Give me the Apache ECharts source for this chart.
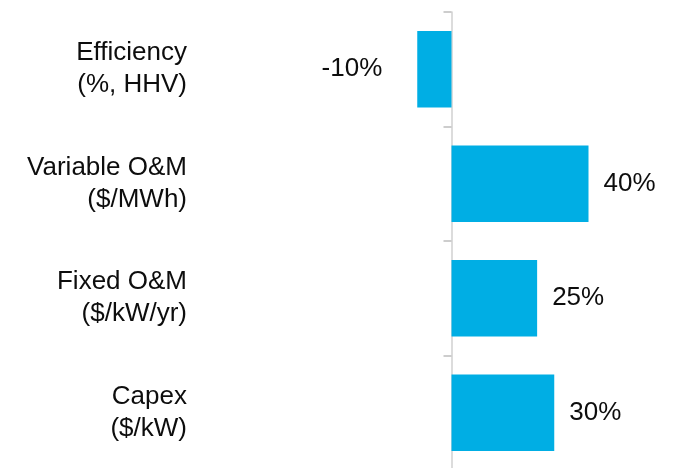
<!DOCTYPE html>
<html>
<head>
<meta charset="utf-8">
<script src="https://cdn.jsdelivr.net/npm/echarts@6/dist/echarts.min.js"></script>
<style>
  html, body { margin: 0; padding: 0; background: #fff; }
  #chart { width: 675px; height: 468px; }
</style>
</head>
<body>
<div id="chart"></div>
<script>
var categories = ['Efficiency\n(%, HHV)', 'Variable O&M\n($/MWh)', 'Fixed O&M\n($/kW/yr)', 'Capex\n($/kW)']
var values = [-10, 40, 25, 30]

var chart = echarts.init(document.getElementById('chart'))
var font = '"Liberation Sans", Arial, sans-serif'

// 负值标签放在左边，正值放在右边
var seriesData = values.map(function (v) {
  return {
    value: v,
    label: {
      position: v < 0 ? 'left' : 'right',
      distance: v < 0 ? 35 : 15
    }
  }
})

var option = {
  animation: false,
  grid: {
    left: 383,
    right: 18,
    top: 12,
    bottom: -2,
    outerBoundsMode: 'none',
    containLabel: false
  },
  xAxis: {
    type: 'value',
    min: -20,
    max: 60,
    show: false
  },
  yAxis: {
    type: 'category',
    inverse: true,
    data: categories,
    axisLine: {
      show: true,
      onZero: true,
      lineStyle: { color: '#d0d0d0', width: 1.5 }
    },
    axisTick: {
      show: true,
      inside: false,
      length: 8,
      lineStyle: { color: '#bdbdbd', width: 1.5 }
    },
    axisLabel: {
      margin: 196,
      color: '#0d0d0d',
      fontSize: 26,
      lineHeight: 32,
      fontFamily: font
    }
  },
  series: [
    {
      type: 'bar',
      data: seriesData,
      barCategoryGap: '33%',
      itemStyle: { color: '#00aee4' },
      label: {
        show: true,
        formatter: '{c}%',
        color: '#0d0d0d',
        fontSize: 26,
        fontFamily: font
      }
    }
  ]
}
chart.setOption(option)
</script>
</body>
</html>
